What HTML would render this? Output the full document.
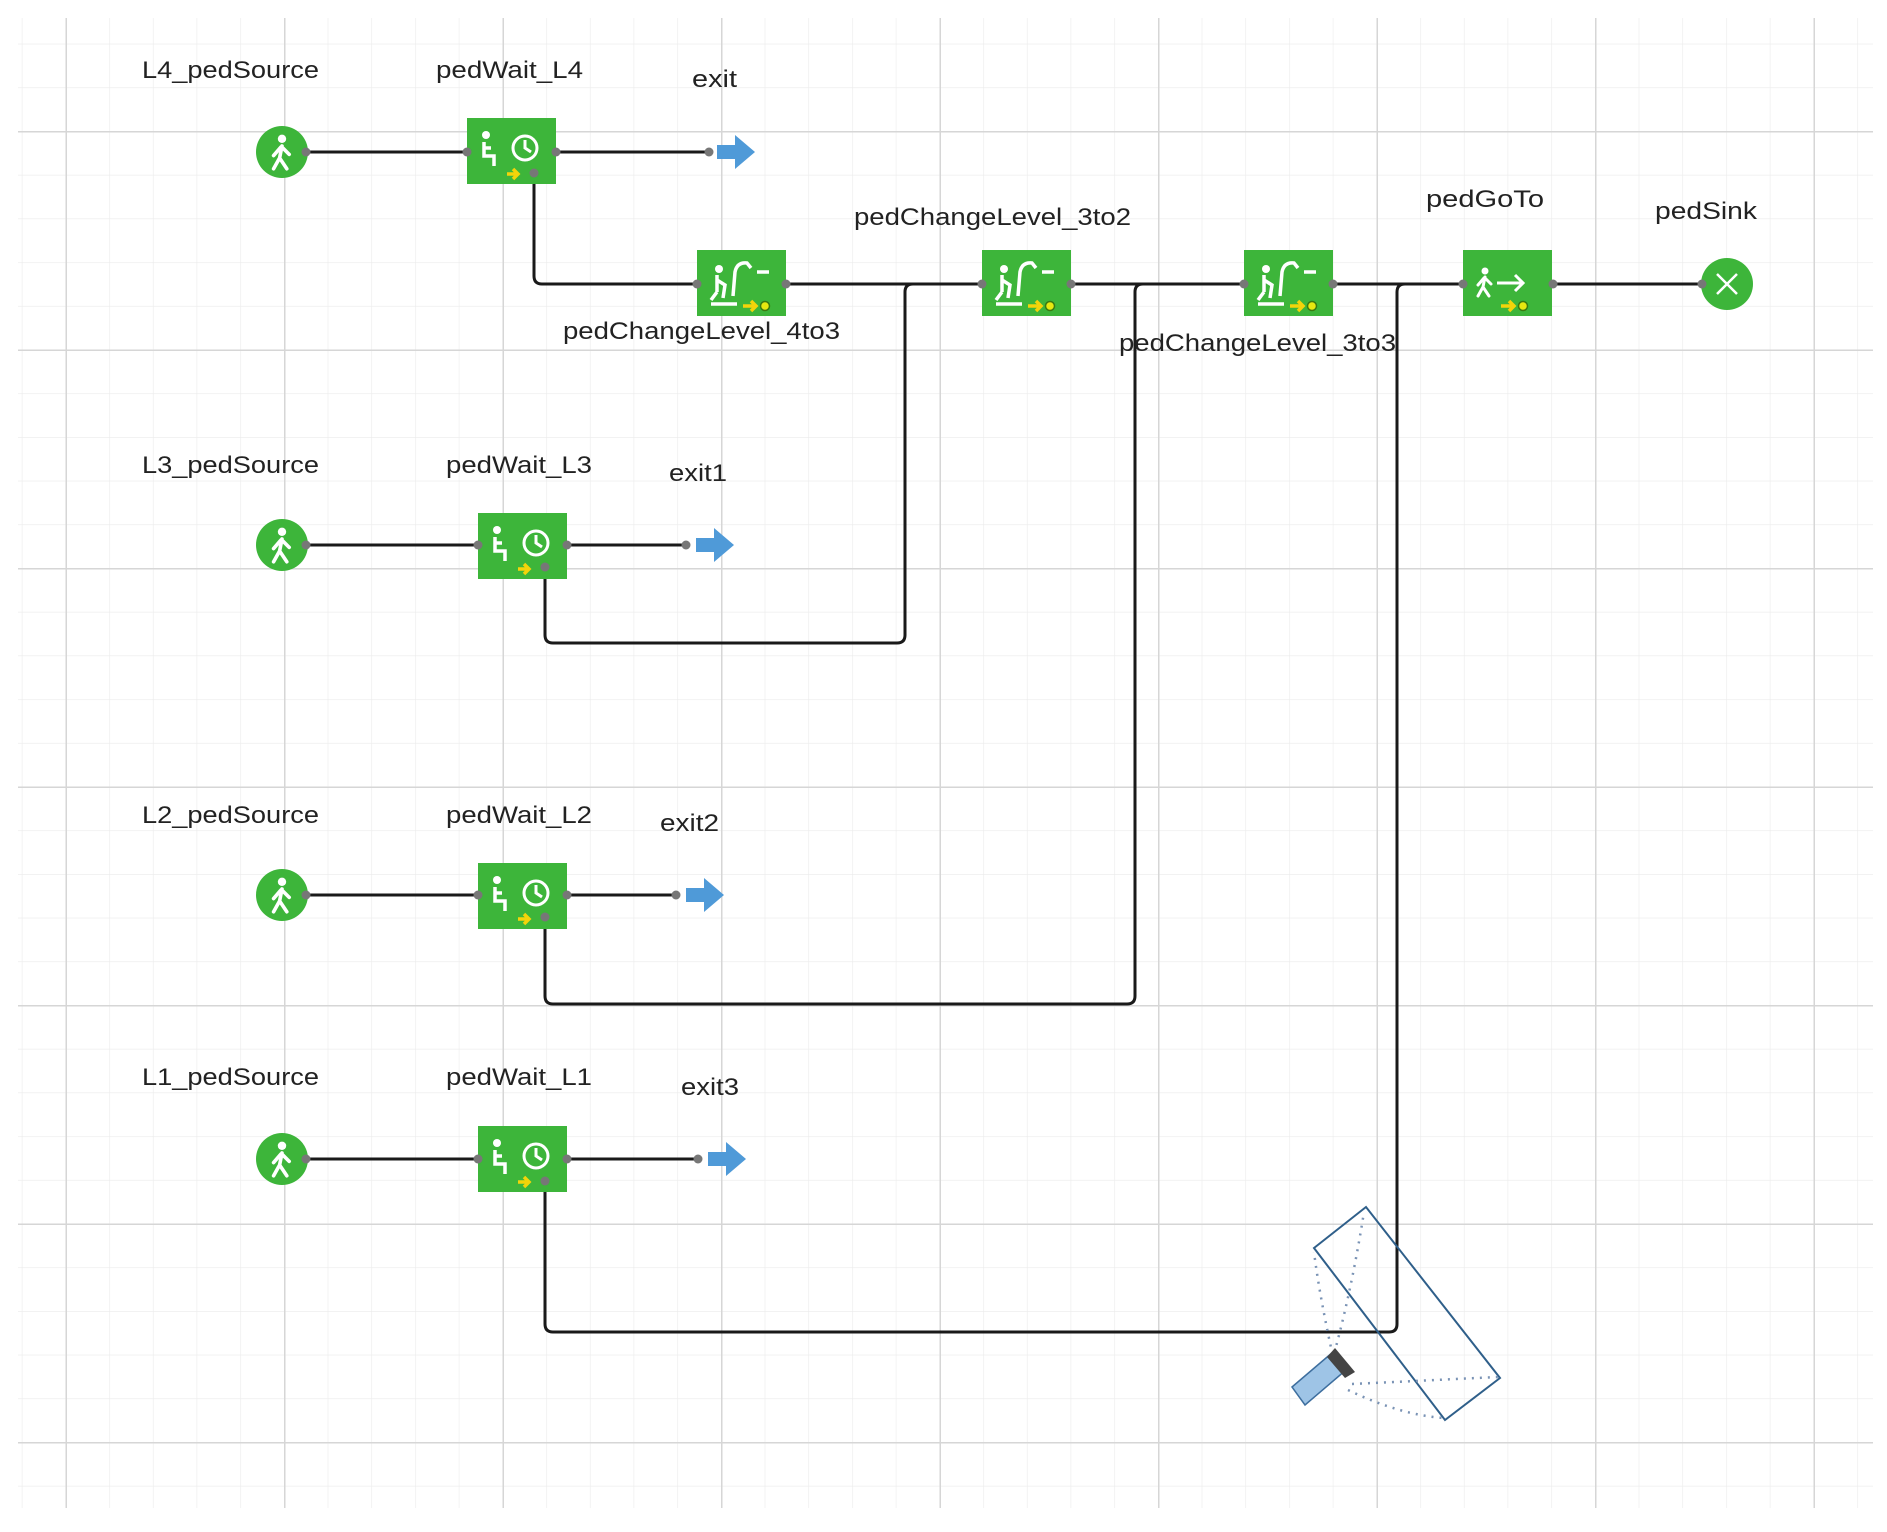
<!DOCTYPE html>
<html><head><meta charset="utf-8"><style>
html,body{margin:0;padding:0;background:#fff}
svg{display:block}
text{font-family:"Liberation Sans","DejaVu Sans",sans-serif;font-size:24px;fill:#222}
</style></head><body>
<svg width="1887" height="1532" viewBox="0 0 1887 1532" xmlns="http://www.w3.org/2000/svg">
<defs>
<pattern id="gm" x="21.8" y="0" width="43.7" height="43.7" patternUnits="userSpaceOnUse">
<path d="M0 0V43.7M0 0H43.7" stroke="#ebebeb" stroke-width="1.2" fill="none"/>
</pattern>
<pattern id="gM" x="65.5" y="131" width="218.5" height="218.5" patternUnits="userSpaceOnUse">
<path d="M0.5 0V218.5M0 0.5H218.5" stroke="#d6d6d6" stroke-width="2" fill="none"/>
</pattern>
<g id="walker" fill="none" stroke="#fff" stroke-width="3" stroke-linecap="round">
<circle cx="0" cy="-11" r="3.5" fill="#fff" stroke="none"/>
<path d="M0 -5 L-2 5 L-7 14 M-2 5 L4 14 M-1 -4 L-7 3 M0 -4 L6 2"/>
</g>
<g id="wait">
<rect x="0" y="0" width="89" height="66" fill="#3db53a"/>
<circle cx="19" cy="17" r="4" fill="#fff"/>
<path d="M17 24 L17 38 L27 38 L27 48 M17 30 L24 30" stroke="#fff" stroke-width="3.5" fill="none"/>
<circle cx="58" cy="30" r="12" fill="none" stroke="#fff" stroke-width="3"/>
<path d="M58 22 L58 30 L64 34" stroke="#fff" stroke-width="3" fill="none"/>
<path d="M40 56 H50 M46 51 L51 56 L46 61" stroke="#f3d40a" stroke-width="3.5" fill="none"/>
</g>
<g id="change">
<rect x="0" y="0" width="89" height="66" fill="#3db53a"/>
<circle cx="22" cy="19" r="4" fill="#fff"/>
<path d="M20 25 L20 42 M20 30 L28 35 L26 48 M20 42 L14 50 M14 54 H40" stroke="#fff" stroke-width="3.5" fill="none"/>
<path d="M36 46 L38 22 Q40 12 50 13 L54 18 M60 22 H72" stroke="#fff" stroke-width="3.5" fill="none"/>
<path d="M46 56 H58 M54 51 L59 56 L54 61" stroke="#f3d40a" stroke-width="3.5" fill="none"/>
<circle cx="68" cy="56" r="4.5" fill="#e8e810" stroke="#3a7a10" stroke-width="1.5"/>
</g>
<g id="goto">
<rect x="0" y="0" width="89" height="66" fill="#3db53a"/>
<use href="#walker" x="22" y="32"/>
<path d="M34 33 H58 M52 25 L60 33 L52 41" stroke="#fff" stroke-width="3" fill="none"/>
<path d="M38 56 H50 M46 51 L51 56 L46 61" stroke="#f3d40a" stroke-width="3.5" fill="none"/>
<circle cx="60" cy="56" r="4.5" fill="#e8e810" stroke="#3a7a10" stroke-width="1.5"/>
</g>
<g id="src"><circle r="26" fill="#3db53a"/><use href="#walker" transform="scale(1.2)"/></g>
<g id="arr"><path d="M0 -7 H18 V-17 L38 0 L18 17 V7 H0 Z" fill="#4f9ad8"/></g>
</defs>
<rect x="18" y="18" width="1855" height="1490" fill="url(#gm)"/>
<rect x="18" y="18" width="1855" height="1490" fill="url(#gM)"/>

<g fill="none" stroke="#1a1a1a" stroke-width="3">
<path d="M306 152H467M556 152H709"/>
<path d="M534 173V276Q534 284 542 284H697M786 284H982M1071 284H1244M1333 284H1463M1553 284H1700"/>
<path d="M545 567V635Q545 643 553 643H897Q905 643 905 635V292Q905 284 913 284"/>
<path d="M567 545H686"/>
<path d="M545 917V996Q545 1004 553 1004H1127Q1135 1004 1135 996V292Q1135 284 1143 284"/>
<path d="M567 895H676"/>
<path d="M545 1181V1324Q545 1332 553 1332H1389Q1397 1332 1397 1324V292Q1397 284 1405 284"/>
<path d="M567 1159H698"/>
<path d="M306 545H478M306 895H478M306 1159H478"/>
</g>

<use href="#src" x="282" y="152"/>
<use href="#src" x="282" y="545"/>
<use href="#src" x="282" y="895"/>
<use href="#src" x="282" y="1159"/>
<use href="#wait" x="467" y="118"/>
<use href="#wait" x="478" y="513"/>
<use href="#wait" x="478" y="863"/>
<use href="#wait" x="478" y="1126"/>
<use href="#change" x="697" y="250"/>
<use href="#change" x="982" y="250"/>
<use href="#change" x="1244" y="250"/>
<use href="#goto" x="1463" y="250"/>
<circle cx="1727" cy="284" r="26" fill="#3db53a"/>
<path d="M1717 274L1737 294M1737 274L1717 294" stroke="#fff" stroke-width="2.5"/>
<use href="#arr" x="717" y="152"/>
<use href="#arr" x="696" y="545"/>
<use href="#arr" x="686" y="895"/>
<use href="#arr" x="708" y="1159"/>

<g fill="#777">
<circle cx="306" cy="152" r="4.5"/><circle cx="467" cy="152" r="4.5"/><circle cx="556" cy="152" r="4.5"/><circle cx="534" cy="173" r="4.5"/><circle cx="709" cy="152" r="4.5"/>
<circle cx="306" cy="545" r="4.5"/><circle cx="478" cy="545" r="4.5"/><circle cx="567" cy="545" r="4.5"/><circle cx="545" cy="567" r="4.5"/><circle cx="686" cy="545" r="4.5"/>
<circle cx="306" cy="895" r="4.5"/><circle cx="478" cy="895" r="4.5"/><circle cx="567" cy="895" r="4.5"/><circle cx="545" cy="917" r="4.5"/><circle cx="676" cy="895" r="4.5"/>
<circle cx="306" cy="1159" r="4.5"/><circle cx="478" cy="1159" r="4.5"/><circle cx="567" cy="1159" r="4.5"/><circle cx="545" cy="1181" r="4.5"/><circle cx="698" cy="1159" r="4.5"/>
<circle cx="697" cy="284" r="4.5"/><circle cx="786" cy="284" r="4.5"/><circle cx="982" cy="284" r="4.5"/><circle cx="1071" cy="284" r="4.5"/>
<circle cx="1244" cy="284" r="4.5"/><circle cx="1333" cy="284" r="4.5"/><circle cx="1463" cy="284" r="4.5"/><circle cx="1553" cy="284" r="4.5"/><circle cx="1702" cy="284" r="4.5"/>
</g>

<!-- camera -->
<path d="M1314 1248L1366 1207L1500 1378L1445 1420Z" fill="none" stroke="#2f5f8a" stroke-width="2"/>
<g stroke="#7a93b5" stroke-width="2.5" stroke-dasharray="2 6" fill="none">
<path d="M1336 1370 Q1320 1300 1314 1252"/>
<path d="M1330 1368 Q1350 1300 1364 1212"/>
<path d="M1352 1384 L1498 1377"/>
<path d="M1348 1390 Q1400 1415 1444 1418"/>
</g>
<path d="M1292 1387L1333 1352L1346 1370L1305 1405Z" fill="#9ec4e6" stroke="#3d6e9e" stroke-width="1.5"/>
<path d="M1327 1357L1335 1348L1355 1372L1345 1378Z" fill="#444"/>

<g lengthAdjust="spacingAndGlyphs">
<text x="142" y="78" textLength="177" lengthAdjust="spacingAndGlyphs">L4_pedSource</text>
<text x="436" y="78" textLength="147" lengthAdjust="spacingAndGlyphs">pedWait_L4</text>
<text x="692" y="87" textLength="45" lengthAdjust="spacingAndGlyphs">exit</text>
<text x="142" y="473" textLength="177" lengthAdjust="spacingAndGlyphs">L3_pedSource</text>
<text x="446" y="473" textLength="146" lengthAdjust="spacingAndGlyphs">pedWait_L3</text>
<text x="669" y="481" textLength="58" lengthAdjust="spacingAndGlyphs">exit1</text>
<text x="142" y="823" textLength="177" lengthAdjust="spacingAndGlyphs">L2_pedSource</text>
<text x="446" y="823" textLength="146" lengthAdjust="spacingAndGlyphs">pedWait_L2</text>
<text x="660" y="831" textLength="59" lengthAdjust="spacingAndGlyphs">exit2</text>
<text x="142" y="1085" textLength="177" lengthAdjust="spacingAndGlyphs">L1_pedSource</text>
<text x="446" y="1085" textLength="146" lengthAdjust="spacingAndGlyphs">pedWait_L1</text>
<text x="681" y="1095" textLength="58" lengthAdjust="spacingAndGlyphs">exit3</text>
<text x="563" y="339" textLength="277" lengthAdjust="spacingAndGlyphs">pedChangeLevel_4to3</text>
<text x="854" y="225" textLength="277" lengthAdjust="spacingAndGlyphs">pedChangeLevel_3to2</text>
<text x="1119" y="351" textLength="277" lengthAdjust="spacingAndGlyphs">pedChangeLevel_3to3</text>
<text x="1426" y="207" textLength="118" lengthAdjust="spacingAndGlyphs">pedGoTo</text>
<text x="1655" y="219" textLength="102" lengthAdjust="spacingAndGlyphs">pedSink</text>
</g>
</svg>
</body></html>
